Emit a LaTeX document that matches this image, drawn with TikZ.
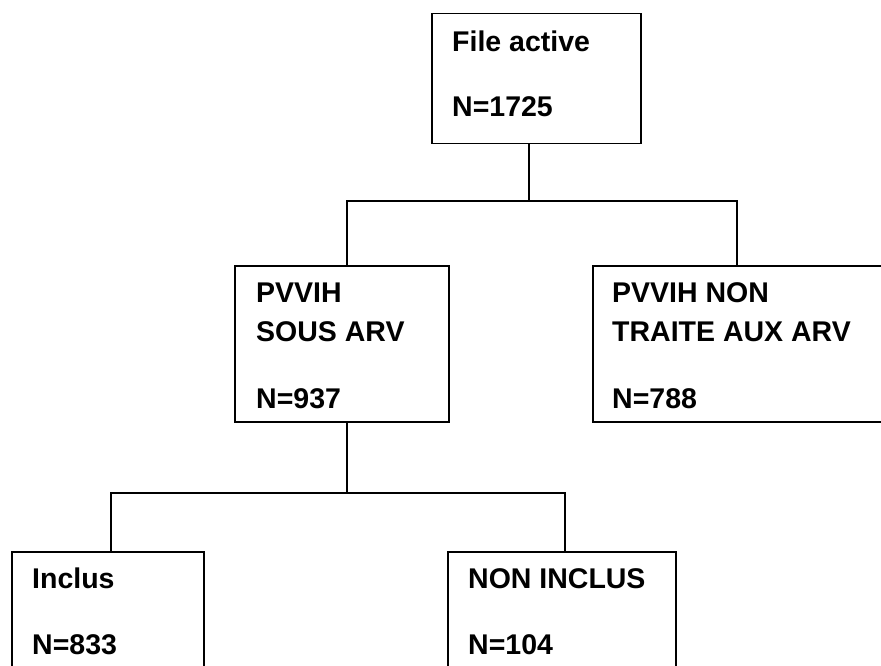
\documentclass[tikz,border=0pt]{standalone}
\usepackage{fontspec}
\setmainfont{Liberation Sans}
\begin{document}
\begin{tikzpicture}[x=1pt,y=-1pt,
  boxst/.style={draw=black,line width=1.5pt,rectangle,inner sep=0pt,anchor=north west},
  lbl/.style={anchor=base west,inner sep=0pt,font=\fontsize{28.5}{34}\selectfont\bfseries},
  link/.style={draw=black,line width=1.5pt}]
\clip (0,0) rectangle (881,666);
\fill[white] (0,0) rectangle (881,666);
% boxes
\node[boxst,minimum width=209pt,minimum height=130pt] (top) at (431,13) {};
\node[boxst,minimum width=214pt,minimum height=156pt] (ml) at (234,265) {};
\node[boxst,minimum width=320pt,minimum height=156pt] (mr) at (592,265) {};
\node[boxst,minimum width=192pt,minimum height=140pt] (bl) at (11,551) {};
\node[boxst,minimum width=228pt,minimum height=140pt] (br) at (447,551) {};
% texts
\node[lbl] (t1) at (452,52) {File active};
\node[lbl] (t2) at (452,117) {N=1725};
\node[lbl] (t3) at (256,302) {PVVIH};
\node[lbl] (t4) at (256,341) {SOUS ARV};
\node[lbl] (t5) at (256,408) {N=937};
\node[lbl] (t6) at (612,302) {PVVIH NON};
\node[lbl] (t7) at (612,341) {TRAITE AUX ARV};
\node[lbl] (t8) at (612,408) {N=788};
\node[lbl] (t9) at (32,588) {Inclus};
\node[lbl] (t10) at (32,654) {N=833};
\node[lbl] (t11) at (468,588) {NON INCLUS};
\node[lbl] (t12) at (468,654) {N=104};
% connectors
\coordinate (j1) at (529,201);
\coordinate (j1l) at (347,201);
\coordinate (j1r) at (737,201);
\coordinate (j2) at (347,493);
\coordinate (j2l) at (111,493);
\coordinate (j2r) at (565,493);
\draw[link] (top.south -| j1) -- (j1);
\draw[link] (ml.north -| j1l) -- (j1l) -- (j1r) -- (mr.north -| j1r);
\draw[link] (ml.south -| j2) -- (j2);
\draw[link] (bl.north -| j2l) -- (j2l) -- (j2r) -- (br.north -| j2r);
\end{tikzpicture}
\end{document}
